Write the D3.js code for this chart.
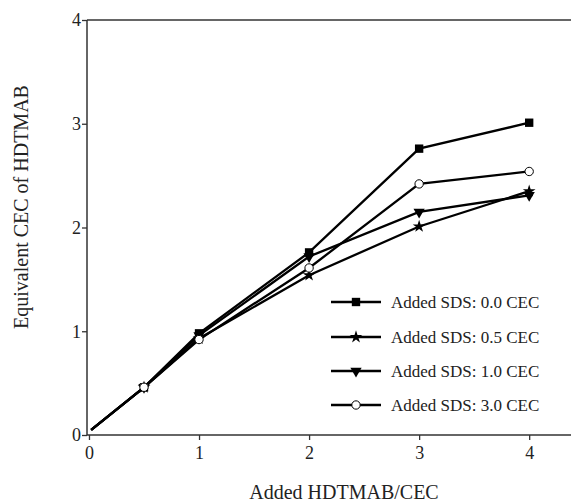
<!DOCTYPE html>
<html>
<head>
<meta charset="utf-8">
<script src="https://cdn.jsdelivr.net/npm/d3@7"></script>
<style>
  body { margin: 0; background: #fff; }
  text { font-family: "Liberation Serif", "Times New Roman", serif; fill: #222; }
</style>
</head>
<body>
<div id="chart"></div>
<script>
"use strict";
(function() {

const WIDTH = 571
const HEIGHT = 502

// data
const addedHDTMAB = [0.02, 0.5, 1, 2, 3, 4]
const sds00 = [0.05, 0.46, 0.98, 1.76, 2.76, 3.01]
const sds05 = [0.05, 0.46, 0.93, 1.54, 2.01, 2.35]
const sds10 = [0.05, 0.46, 0.96, 1.72, 2.15, 2.31]
const sds30 = [0.05, 0.46, 0.92, 1.61, 2.42, 2.54]
const seriesNames = ["Added SDS: 0.0 CEC", "Added SDS: 0.5 CEC", "Added SDS: 1.0 CEC", "Added SDS: 3.0 CEC"]
const markers = ["square", "star", "triangleDown", "circle"]
const xTicks = [0, 1, 2, 3, 4]
const yTicks = [0, 1, 2, 3, 4]

const series = [sds00, sds05, sds10, sds30].map((vals, i) => ({
    name: seriesNames[i],
    marker: markers[i],
    points: vals.map((v, j) => ({ x: addedHDTMAB[j], y: v, first: j === 0 }))
}))

const svg = d3.select("#chart").append("svg")
    .attr("width", WIDTH)
    .attr("height", HEIGHT)

const x_scale = d3.scaleLinear().domain([-0.018, 4.38]).range([87, 571])
const y_scale = d3.scaleLinear().domain([0, 4]).range([435, 20])

// frame: top line
svg.append("line")
    .attr("x1", 87).attr("x2", WIDTH)
    .attr("y1", y_scale(4)).attr("y2", y_scale(4))
    .attr("stroke", "#333").attr("stroke-width", 1.5)

const xAxis = svg.append("g")
    .attr("transform", `translate(0, ${y_scale(0)})`)
    .call(d3.axisBottom(x_scale).tickValues(xTicks).tickSize(5).tickPadding(6).tickFormat(d3.format("d")))
const yAxis = svg.append("g")
    .attr("transform", `translate(87, 0)`)
    .call(d3.axisLeft(y_scale).tickValues(yTicks).tickSize(5).tickPadding(1).tickFormat(d3.format("d")))

;[xAxis, yAxis].forEach(ax => {
    ax.select(".domain").attr("stroke", "#333").attr("stroke-width", 1.5)
    ax.selectAll(".tick line").attr("stroke", "#333").attr("stroke-width", 1.3)
    ax.selectAll(".tick text")
        .attr("font-family", "Liberation Serif, serif")
        .attr("font-size", 18).attr("fill", "#222")
})
xAxis.select(".domain").attr("d", `M87,0H${WIDTH}`)
yAxis.select(".domain").attr("d", `M0,${y_scale(4)}V${y_scale(0)}`)

// axis labels
svg.append("text").text("Added HDTMAB/CEC")
    .attr("x", 344).attr("y", 499)
    .attr("text-anchor", "middle").attr("font-size", 20)
svg.append("text").text("Equivalent CEC of HDTMAB")
    .attr("transform", `translate(28, 207) rotate(-90)`)
    .attr("text-anchor", "middle").attr("font-size", 20)

const symbolFor = {
    square: d3.symbol().type(d3.symbolSquare).size(70),
    star: d3.symbol().type(d3.symbolStar).size(50),
    triangleDown: d3.symbol().type(d3.symbolTriangle).size(55),
    circle: d3.symbol().type(d3.symbolCircle).size(55)
}

function drawMarker(g, kind, cx, cy) {
    const p = g.append("path")
        .attr("d", symbolFor[kind]())
        .attr("transform", `translate(${cx},${cy})` + (kind === "triangleDown" ? " rotate(180)" : ""))
    if (kind === "circle") {
        p.attr("fill", "#fff").attr("stroke", "#000").attr("stroke-width", 1)
    } else {
        p.attr("fill", "#000")
    }
}

const line = d3.line().x(d => x_scale(d.x)).y(d => y_scale(d.y))

const plot = svg.append("g")
series.forEach(s => {
    plot.append("path")
        .datum(s.points)
        .attr("d", line)
        .attr("fill", "none")
        .attr("stroke", "#000")
        .attr("stroke-width", 2.3)
})
series.forEach(s => {
    s.points.filter(d => !d.first).forEach(d => {
        drawMarker(plot, s.marker, x_scale(d.x), y_scale(d.y))
    })
})

// legend
const legendY = [302, 337, 371, 405]
series.forEach((s, i) => {
    const g = svg.append("g").attr("transform", `translate(331, ${legendY[i]})`)
    g.append("line").attr("x1", 0).attr("x2", 50).attr("y1", 0).attr("y2", 0)
        .attr("stroke", "#000").attr("stroke-width", 2.5)
    drawMarker(g, s.marker, 25, 0)
    g.append("text").text(s.name)
        .attr("x", 60).attr("y", 6)
        .attr("font-size", 17)
})

})();
</script>
</body>
</html>
